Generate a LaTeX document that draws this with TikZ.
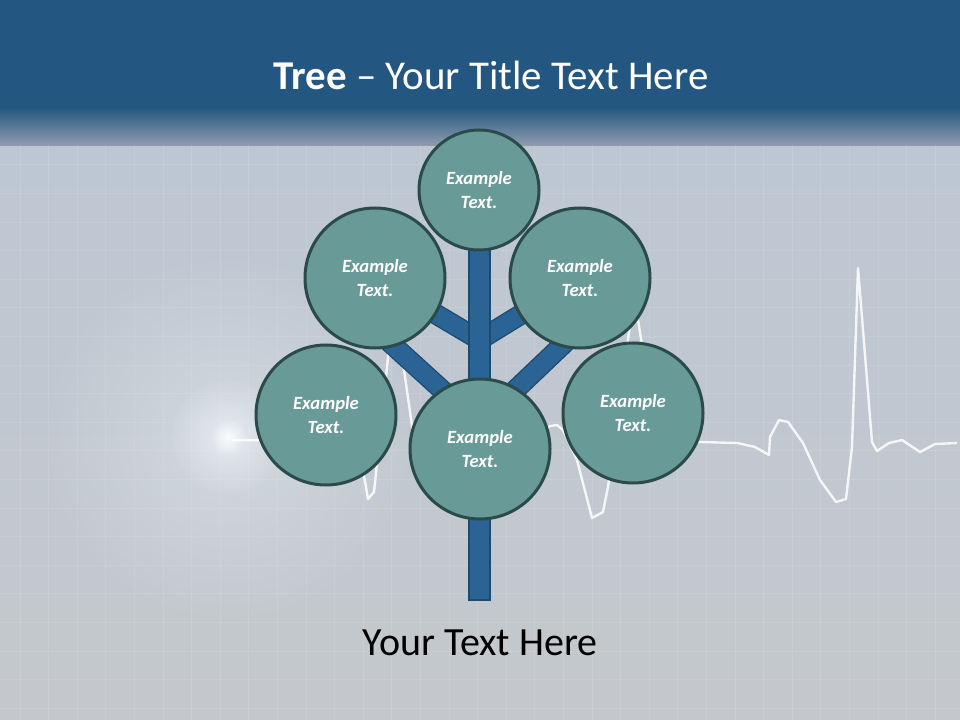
\documentclass[tikz,border=0pt]{standalone}
\usepackage{fontspec}
\setmainfont{Carlito}
\usetikzlibrary{fadings}
\definecolor{hdr}{HTML}{235680}
\definecolor{hdrlow}{HTML}{909CAE}
\definecolor{bodytop}{HTML}{BDC7D3}
\definecolor{bodybot}{HTML}{C4C8CC}
\definecolor{circfill}{HTML}{689A98}
\definecolor{circline}{HTML}{2B4B4B}
\definecolor{trunkfill}{HTML}{2A6394}
\definecolor{trunkline}{HTML}{1D4A70}
\definecolor{glowc}{HTML}{F2F8FC}
\tikzfading[name=glowfade, inner color=transparent!0, outer color=transparent!100]
\tikzset{
  bubble/.style={circle, fill=circfill, draw=circline, line width=2.25pt,
    minimum size=105pt, inner sep=0pt, text=white, align=center,
    font=\bfseries\itshape\fontsize{14}{17.5}\selectfont},
  smallbubble/.style={bubble, minimum size=90pt},
  trunkbox/.style={rectangle, fill=trunkfill, draw=trunkline, line width=1pt,
    minimum width=15.75pt, minimum height=262.5pt, inner sep=0pt},
  branch/.style={draw=trunkline, line width=1pt, double=trunkfill, double distance=13.5pt},
  ecg/.style={draw=white, line width=1.8pt, line join=round, opacity=0.85},
  gridline/.style={draw=white, line width=0.7pt, opacity=0.1}
}
\begin{document}
\begin{tikzpicture}[x=0.75pt,y=-0.75pt]
\useasboundingbox (0,0) rectangle (960,720);
% background
\shade[top color=bodytop, bottom color=bodybot] (0,145) rectangle (960,720);
\fill[hdr] (0,0) rectangle (960,108);
\shade[top color=hdr, bottom color=hdrlow] (0,107.5) rectangle (960,145.5);
% grid
\foreach \gx in {20,48.6,...,960} \draw[gridline] (\gx,145) -- (\gx,720);
\foreach \gy in {164.8,193.4,...,720} \draw[gridline] (0,\gy) -- (960,\gy);
% glow
\fill[glowc, opacity=0.35, path fading=glowfade] (228,437) circle (190);
\fill[glowc, opacity=0.6, path fading=glowfade] (228,437) circle (60);
\fill[white, opacity=0.8, path fading=glowfade] (228,437) circle (18);
% ECG trace
\draw[ecg] (232,440) -- (328,441) -- (338,445) -- (343,432) -- (350,425) -- (356,428)
  -- (368,499) -- (374,492) -- (394,300) -- (404,370) -- (414,440) -- (530,441)
  -- (540,436) -- (550,426) -- (557,425) -- (563,430) -- (577,460) -- (592,518)
  -- (603,512) -- (608,487) -- (634,295) -- (642,345) -- (652,440) -- (700,442)
  -- (737,443) -- (755,447) -- (769,455) -- (770,437) -- (779,420) -- (788,422)
  -- (803,443) -- (820,480) -- (836,502) -- (846,499) -- (852,447) -- (858,268)
  -- (872,442) -- (877,451) -- (889,443) -- (902,440) -- (920,452) -- (935,444)
  -- (957,443);
% title
\node[text=white, font=\fontsize{30.7}{36}\selectfont] (title) at (491,75)
  {\textbf{Tree} – Your Title Text Here};
% positions
\coordinate (j1) at (479.5,340);
\coordinate (j2) at (479.5,424);
\coordinate (ulc) at (375,278);
\coordinate (urc) at (580,278);
% branches
\draw[branch] (j1) -- (ulc);
\draw[branch] (j1) -- (urc);
\draw[branch, shorten >=-12pt] (j2) -- (385,338);
\draw[branch, shorten >=-12pt] (j2) -- (574,334);
% trunk
\node[trunkbox] (trunk) at (479.5,425) {};
% bubbles
\node[smallbubble] (top) at (479,190) {Example\\Text.};
\node[bubble] (ul) at (ulc) {Example\\Text.};
\node[bubble] (ur) at (urc) {Example\\Text.};
\node[bubble] (ll) at (326,415) {Example\\Text.};
\node[bubble] (lr) at (633,413) {Example\\Text.};
\node[bubble] (bc) at (480,449) {Example\\Text.};
% caption
\node[text=black, font=\fontsize{30}{36}\selectfont] (caption) at (480,643) {Your Text Here};
\end{tikzpicture}
\end{document}
